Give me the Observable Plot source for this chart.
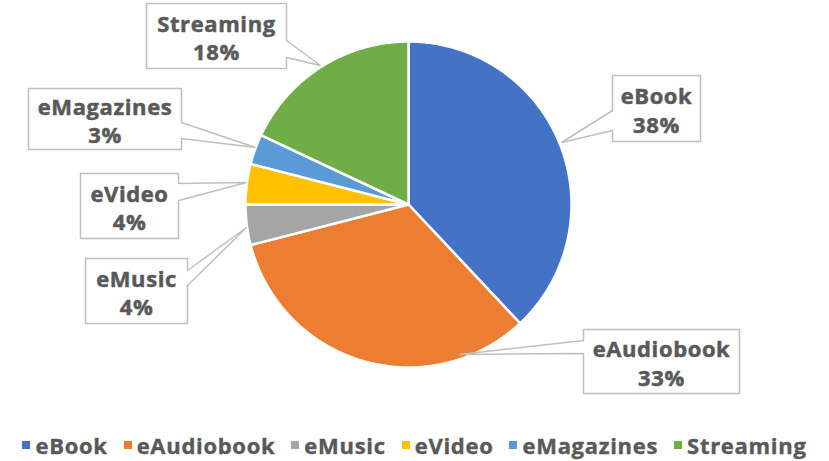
<!DOCTYPE html>
<html>
<head>
<meta charset="utf-8">
<script src="https://cdn.jsdelivr.net/npm/d3@7"></script>
<script src="https://cdn.jsdelivr.net/npm/@observablehq/plot@0.6"></script>
<style>
  body { margin: 0; background: #fff; }
  #chart svg text { letter-spacing: 0.6px; }
  .legend { height: 50px; display: flex; justify-content: center; align-items: center; gap: 16px;
    font-family: "Open Sans", sans-serif; font-weight: 700; font-size: 22px; color: #595959; letter-spacing: 0.7px;
    -webkit-text-stroke: 0.4px #595959; }
  .legend .item { display: flex; align-items: center; gap: 5px; }
  .legend .sw { width: 8px; height: 8px; display: inline-block; }
</style>
</head>
<body>
<div id="chart"></div>
<script>
// ---- data ----
const categories = ["eBook", "eAudiobook", "eMusic", "eVideo", "eMagazines", "Streaming"];
const values = [38, 33, 4, 4, 3, 18];
const valueLabels = ["38%", "33%", "4%", "4%", "3%", "18%"];
const colors = ["#4472C4", "#ED7D31", "#A5A5A5", "#FFC000", "#5B9BD5", "#70AD47"];

// ---- layout ----
const W = 829, H = 420;
const pieCenter = [408, 204], pieRadius = 163;
const calloutLayout = {
  eBook:      {box: [612, 75, 700, 141],  side: "left",  base: [110, 130], tip: [561, 142]},
  eAudiobook: {box: [583, 329, 739, 393], side: "left",  base: [340, 353], tip: [459, 354]},
  eMusic:     {box: [85, 258, 187, 323],  side: "right", base: [270, 285], tip: [246, 227]},
  eVideo:     {box: [80, 173, 178, 238],  side: "right", base: [183, 200], tip: [246, 182]},
  eMagazines: {box: [28, 88, 181, 149],   side: "right", base: [122, 138], tip: [255, 147]},
  Streaming:  {box: [146, 3, 286, 68],    side: "right", base: [40, 57],   tip: [320, 65]}
};

// pie slice polygons from the data
const arcs = d3.pie().sort(null).value(d => d)(values);
const slicePts = [];
arcs.forEach((a, i) => {
  const name = categories[i];
  const [cx, cy] = pieCenter;
  slicePts.push({name, x: cx, y: cy});
  const n = Math.max(4, Math.ceil((a.endAngle - a.startAngle) / 0.01));
  for (let k = 0; k <= n; k++) {
    const t = a.startAngle + (a.endAngle - a.startAngle) * k / n;
    slicePts.push({name, x: cx + pieRadius * Math.sin(t), y: cy - pieRadius * Math.cos(t)});
  }
  slicePts.push({name, x: cx, y: cy});
});

// callout shapes
const calloutPts = [];
const labelPts = [];
categories.forEach((name, i) => {
  const c = calloutLayout[name];
  const [x0, y0, x1, y1] = c.box;
  const [b0, b1] = c.base;
  let pts;
  if (c.side === "right") {
    pts = [[x0, y0], [x1, y0], [x1, b0], c.tip, [x1, b1], [x1, y1], [x0, y1], [x0, y0]];
  } else {
    pts = [[x0, y0], [x1, y0], [x1, y1], [x0, y1], [x0, b1], c.tip, [x0, b0], [x0, y0]];
  }
  pts.forEach(([x, y]) => calloutPts.push({name, x, y}));
  labelPts.push({name, x: (x0 + x1) / 2, y: (y0 + y1) / 2 + 1, text: name + "\n" + valueLabels[i]});
});

const chart = Plot.plot({
  width: W, height: H,
  margin: 0,
  x: {domain: [0, W], range: [0, W], axis: null},
  y: {domain: [0, H], range: [0, H], axis: null},
  color: {domain: categories, range: colors},
  style: {background: "white"},
  marks: [
    Plot.line(slicePts, {x: "x", y: "y", z: "name", fill: "name", stroke: "white", strokeWidth: 2.5, strokeLinejoin: "round"}),
    Plot.line(calloutPts, {x: "x", y: "y", z: "name", fill: "white", stroke: "#BFBFBF", strokeWidth: 1.5, strokeLinejoin: "miter"}),
    Plot.text(labelPts, {x: "x", y: "y", text: "text", fill: "#595959", stroke: "#595959", strokeWidth: 0.5,
      fontFamily: "Open Sans", fontWeight: 700, fontSize: 22, lineHeight: 1.28})
  ]
});
document.getElementById("chart").appendChild(chart);

// legend
const legend = document.createElement("div");
legend.className = "legend";
categories.forEach((name, i) => {
  const item = document.createElement("span");
  item.className = "item";
  const sw = document.createElement("span");
  sw.className = "sw";
  sw.style.background = colors[i];
  const t = document.createElement("span");
  t.textContent = name;
  item.appendChild(sw); item.appendChild(t);
  legend.appendChild(item);
});
document.getElementById("chart").appendChild(legend);
</script>
</body>
</html>
